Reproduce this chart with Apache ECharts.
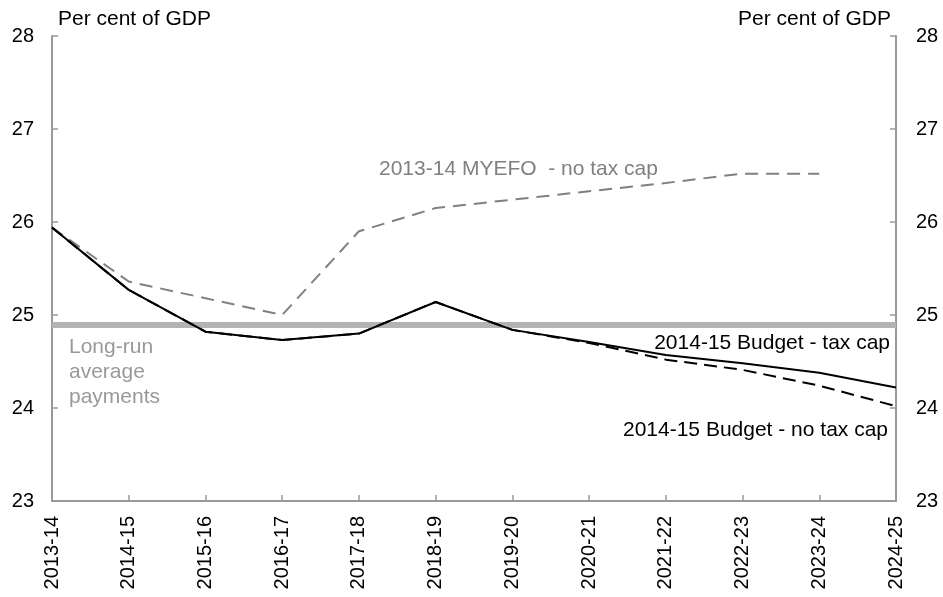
<!DOCTYPE html>
<html>
<head>
<meta charset="utf-8">
<script src="https://cdn.jsdelivr.net/npm/echarts@6/dist/echarts.min.js"></script>
<style>
  html, body { margin: 0; padding: 0; background: #fff; }
  #chart { width: 943px; height: 597px; }
</style>
</head>
<body>
<div id="chart"></div>
<script>
// 年度
var years = ['2013-14', '2014-15', '2015-16', '2016-17', '2017-18', '2018-19',
             '2019-20', '2020-21', '2021-22', '2022-23', '2023-24', '2024-25'];
// 2014-15 Budget - tax cap
var budgetTaxCap = [25.94, 25.27, 24.82, 24.73, 24.80, 25.14, 24.84, 24.71, 24.57, 24.48, 24.38, 24.22];
// 2014-15 Budget - no tax cap
var budgetNoCap = [25.94, 25.27, 24.82, 24.73, 24.80, 25.14, 24.84, 24.70, 24.52, 24.41, 24.24, 24.02];
// 2013-14 MYEFO - no tax cap
var myefoNoCap = [25.94, 25.36, 25.18, 25.00, 25.90, 26.15, 26.24, 26.33, 26.42, 26.52, 26.52, null];
// 长期平均
var longRunAvg = 24.89;

var font = 'Liberation Sans, Arial, sans-serif';
var axisCol = '#999';

var myChart = echarts.init(document.getElementById('chart'));

function yAxisOpt(pos, margin) {
    return {
        type: 'value',
        position: pos,
        min: 23, max: 28, interval: 1,
        axisLine: { show: true, lineStyle: { color: axisCol, width: 2 } },
        axisTick: { show: true, inside: true, length: 6, lineStyle: { color: axisCol, width: 1.5 } },
        splitLine: { show: false },
        axisLabel: { color: '#000', fontSize: 20, fontFamily: font, margin: margin }
    };
}

function txt(x, y, s, color, align) {
    return {
        type: 'text', x: x, y: y,
        style: { text: s, fontSize: 21, fontFamily: font, fill: color, align: align, verticalAlign: 'middle' }
    };
}

var option = {
    animation: false,
    grid: { left: 52, right: 47, top: 36, bottom: 96 },
    xAxis: {
        type: 'category',
        data: years,
        boundaryGap: false,
        axisLine: { lineStyle: { color: axisCol, width: 2 } },
        axisTick: { inside: true, length: 6, alignWithLabel: true, lineStyle: { color: axisCol, width: 1.5 } },
        axisLabel: { rotate: 90, color: '#000', fontSize: 20, fontFamily: font, margin: 15, interval: 0 }
    },
    yAxis: [yAxisOpt('left', 18), yAxisOpt('right', 20)],
    series: [
        {
            name: '2013-14 MYEFO - no tax cap',
            type: 'line',
            data: myefoNoCap,
            symbol: 'none',
            lineStyle: { color: '#808080', width: 2, type: [13, 8] },
            z: 2
        },
        {
            name: '2014-15 Budget - no tax cap',
            type: 'line',
            data: budgetNoCap,
            symbol: 'none',
            lineStyle: { color: '#000', width: 2, type: [13, 7] },
            z: 3
        },
        {
            name: '2014-15 Budget - tax cap',
            type: 'line',
            data: budgetTaxCap,
            symbol: 'none',
            lineStyle: { color: '#000', width: 2 },
            z: 4,
            markLine: {
                silent: true,
                symbol: 'none',
                label: { show: false },
                lineStyle: { color: '#b3b3b3', width: 6, type: 'solid' },
                data: [{ yAxis: longRunAvg }],
                z: 1
            }
        }
    ],
    graphic: [
        txt(58, 19, 'Per cent of GDP', '#000', 'left'),
        txt(891, 19, 'Per cent of GDP', '#000', 'right'),
        {
            type: 'text', x: 69, y: 372,
            style: { text: 'Long-run\naverage\npayments', fontSize: 21, lineHeight: 25, fontFamily: font, fill: '#999', verticalAlign: 'middle' }
        },
        txt(379, 169, '2013-14 MYEFO  - no tax cap', '#808080', 'left'),
        txt(890, 343, '2014-15 Budget - tax cap', '#000', 'right'),
        txt(888, 430, '2014-15 Budget - no tax cap', '#000', 'right')
    ]
};

myChart.setOption(option);
</script>
</body>
</html>
